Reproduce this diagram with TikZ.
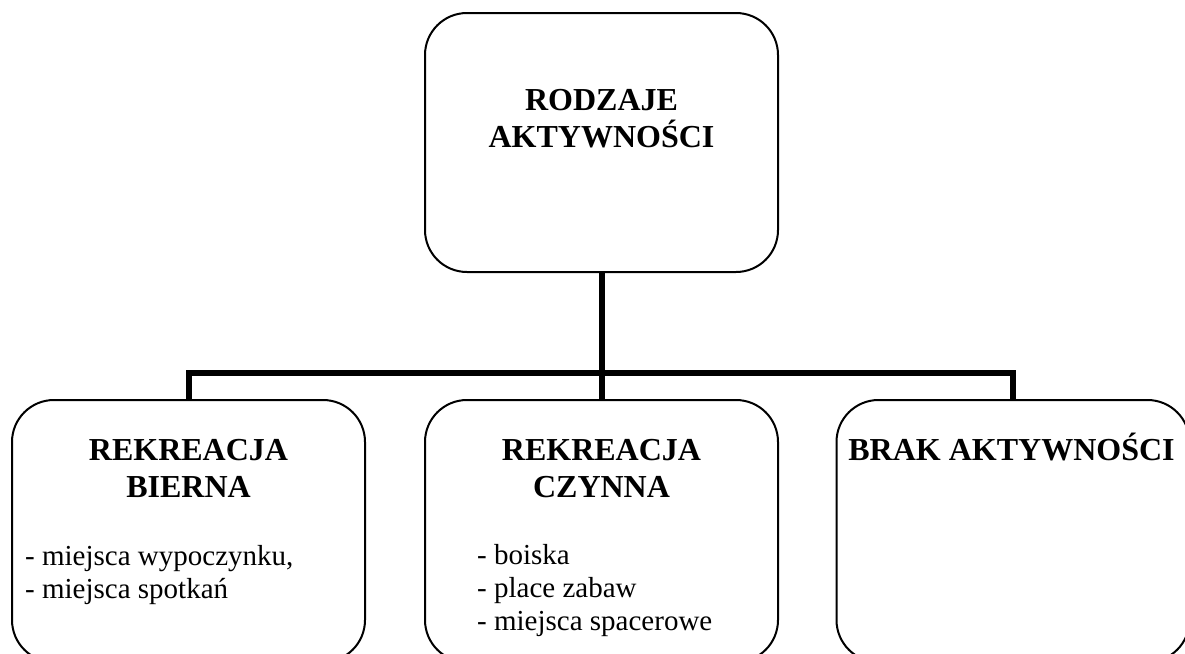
\documentclass[tikz,border=0pt]{standalone}
\usepackage{fontspec}
\setmainfont{Liberation Serif}
\begin{document}
\begin{tikzpicture}[x=1pt,y=-1pt,
  box/.style={draw, line width=2pt, rounded corners=42pt, inner sep=0pt,
    minimum width=353pt},
  link/.style={line width=6pt},
  head/.style={font=\fontsize{32}{37}\selectfont\bfseries, align=center,
    inner sep=0pt, anchor=base},
  body/.style={font=\fontsize{29}{33}\selectfont, align=left,
    inner sep=0pt, anchor=base west}]
\useasboundingbox (0,0) rectangle (1185,653);

% boxes
\node[box, minimum height=259pt] (top) at (601.5,142.5) {};
\node[box, minimum height=262pt] (left) at (188.5,531) {};
\node[box, minimum height=262pt] (mid) at (601.5,531) {};
\node[box, minimum height=262pt] (right) at (1013,531) {};

% connectors
\coordinate (hub) at (601.5,373);
\draw[link] (top.south) -- (mid.north);
\draw[link] (left.north) |- (hub) -| (right.north);

% texts (a multi-line node sits on the baseline of its last line)
\node[head] (toptitle) at (601.5,147) {RODZAJE\\AKTYWNOŚCI};
\node[head] (lefttitle) at (188.5,497) {REKREACJA\\BIERNA};
\node[head] (midtitle) at (601.5,497) {REKREACJA\\CZYNNA};
\node[head] (righttitle) at (1011.5,460) {BRAK AKTYWNOŚCI};

\node[body] (leftlist) at (25,598) {- miejsca wypoczynku,\\- miejsca spotkań};
\node[body] (midlist) at (477,630) {- boiska\\- place zabaw\\- miejsca spacerowe};
\end{tikzpicture}
\end{document}
